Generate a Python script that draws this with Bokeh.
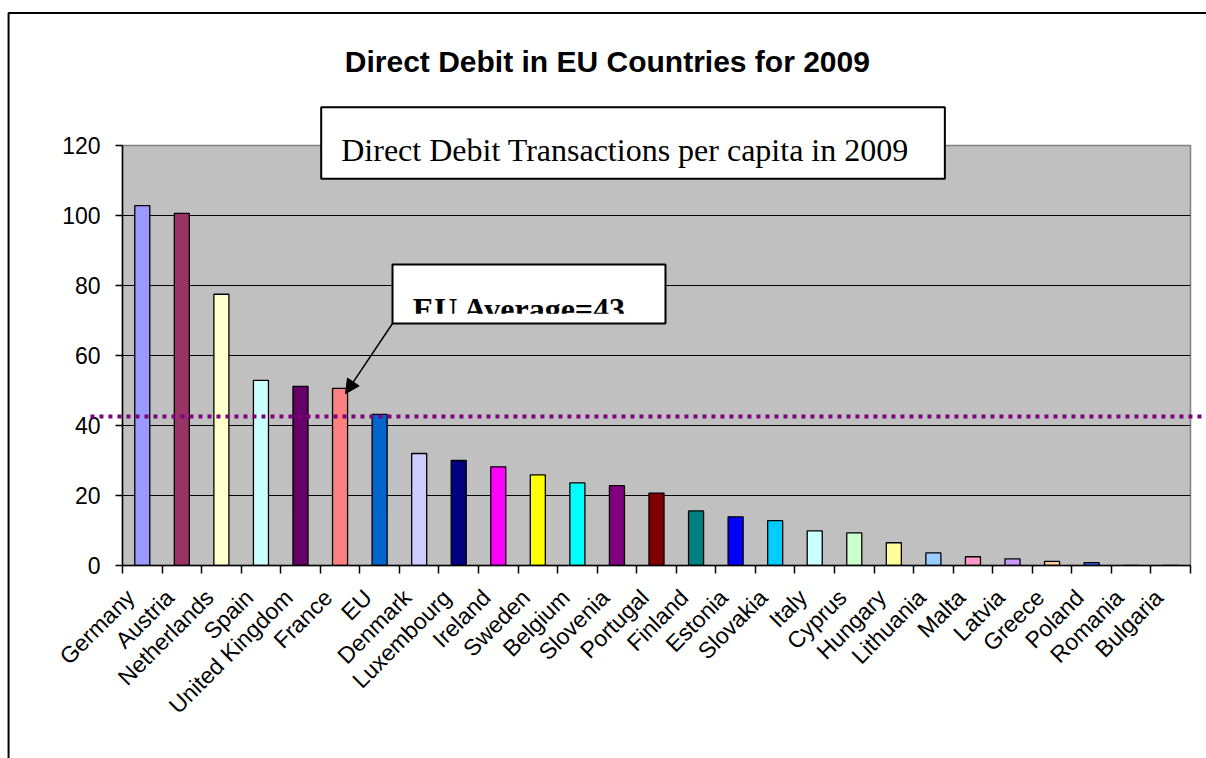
import math
from bokeh.plotting import figure
from bokeh.layouts import column
from bokeh.models import (Range1d, FixedTicker, BoxAnnotation, Label, Arrow, NormalHead,
                          LinearAxis, Grid, ColumnDataSource)
from bokeh.embed import file_html
from bokeh.resources import INLINE

# ---------------- data ----------------
title_text = "Direct Debit in EU Countries for 2009"
callout_text = "Direct Debit Transactions per capita in 2009"
eu_average_label = "EU Average=43"
eu_average_line = 42.6

countries = ["Germany", "Austria", "Netherlands", "Spain", "United Kingdom", "France", "EU",
             "Denmark", "Luxembourg", "Ireland", "Sweden", "Belgium", "Slovenia", "Portugal",
             "Finland", "Estonia", "Slovakia", "Italy", "Cyprus", "Hungary", "Lithuania",
             "Malta", "Latvia", "Greece", "Poland", "Romania", "Bulgaria"]
values = [102.8, 100.6, 77.5, 52.9, 51.2, 50.6, 43.2, 32.0, 30.0, 28.2, 25.9, 23.6, 22.8,
          20.7, 15.6, 13.9, 12.8, 9.9, 9.3, 6.5, 3.6, 2.5, 1.9, 1.2, 0.8, 0.0, 0.0]
colors = ["#9999FF", "#993366", "#FFFFCC", "#CCFFFF", "#660066", "#FF8080", "#0066CC",
          "#CCCCFF", "#000080", "#FF00FF", "#FFFF00", "#00FFFF", "#800080", "#800000",
          "#008080", "#0000FF", "#00CCFF", "#CCFFFF", "#CCFFCC", "#FFFF99", "#99CCFF",
          "#FF99CC", "#CC99FF", "#FFCC99", "#3366FF", "#33CCCC", "#99CC00"]
y_ticks = [0, 20, 40, 60, 80, 100, 120]
y_max = 120

n = len(countries)
x_centers = [i + 0.5 for i in range(n)]
x_bounds = list(range(n + 1))
label_shift = 0.3                           # rotated labels end slightly left of the bar
label_pos = [c - label_shift for c in x_centers]

# ---------------- layout constants ----------------
W, H = 1206, 758
FL, FR, FT, FB = 122, 16, 145, 193          # frame borders (px)
ppx = (W - FL - FR) / n                      # px per category
ppy = (H - FT - FB) / y_max                  # px per unit

src = ColumnDataSource(dict(x=x_centers, top=values, color=colors, country=countries))

p = figure(width=W, height=H, x_range=Range1d(0, n), y_range=Range1d(0, y_max),
           output_backend="svg", toolbar_location=None,
           x_axis_location=None, y_axis_location=None,
           min_border_left=FL, min_border_right=FR, min_border_top=FT, min_border_bottom=FB)
p.frame_align = False
p.center = [r for r in p.center if not isinstance(r, Grid)]
p.background_fill_color = "#C0C0C0"
p.border_fill_color = "white"
p.outline_line_color = "#808080"
p.outline_line_width = 1.5

xaxis = LinearAxis(ticker=FixedTicker(ticks=label_pos, minor_ticks=x_bounds),
                   major_label_overrides={c: name for c, name in zip(label_pos, countries)},
                   major_tick_line_color=None, major_tick_out=0, major_tick_in=0,
                   minor_tick_out=8, minor_tick_in=0, minor_tick_line_color="black",
                   minor_tick_line_width=1.5,
                   axis_line_color="black", axis_line_width=1.5,
                   major_label_orientation=math.pi / 4, major_label_standoff=20,
                   major_label_text_font="Liberation Sans", major_label_text_font_size="23px",
                   major_label_text_color="black")
p.add_layout(xaxis, "below")

yaxis = LinearAxis(ticker=FixedTicker(ticks=y_ticks),
                   major_tick_out=7, major_tick_in=0, major_tick_line_color="black",
                   major_tick_line_width=1.5, minor_tick_line_color=None,
                   axis_line_color="black", axis_line_width=1.5,
                   major_label_standoff=15,
                   major_label_text_font="Liberation Sans", major_label_text_font_size="23px",
                   major_label_text_color="black")
p.add_layout(yaxis, "left")

p.add_layout(Grid(dimension=1, ticker=yaxis.ticker, grid_line_color="black", grid_line_width=1.2))

p.vbar(x="x", top="top", bottom=0, width=0.38, fill_color="color", line_color="black",
       line_width=1.3, source=src)

# ---------------- transparent overlay sharing the same data coordinates ----------------
o = figure(width=W, height=H,
           x_range=Range1d(-FL / ppx, (W - FL) / ppx),
           y_range=Range1d(-FB / ppy, (H - FB) / ppy),
           output_backend="svg", toolbar_location=None,
           x_axis_location=None, y_axis_location=None,
           min_border=0, min_border_left=0, min_border_right=0,
           min_border_top=0, min_border_bottom=0, margin=(-H, 0, 0, 0))
o.frame_align = False
o.center = [r for r in o.center if not isinstance(r, Grid)]
o.border_fill_color = None
o.background_fill_color = None
o.outline_line_color = None

# document frame
o.add_layout(BoxAnnotation(left=-2.88, right=n + 6, top=157.86, bottom=-200,
                           fill_alpha=0, line_color="black", line_alpha=1, line_width=2))

# title
o.add_layout(Label(x=5.62, y=143.9, text=title_text, text_font="Liberation Sans",
                   text_font_style="bold", text_font_size="30px", text_color="black",
                   text_align="left", text_baseline="alphabetic"))

# EU average dotted line
o.add_layout(Arrow(end=None, x_start=-0.81, y_start=eu_average_line,
                   x_end=n + 3, y_end=eu_average_line,
                   line_color="#800080", line_width=4, line_dash="4 5"))

# callout 1
o.add_layout(BoxAnnotation(left=5.023, right=20.79, top=130.94, bottom=110.49,
                           fill_color="white", fill_alpha=1, line_color="black",
                           line_alpha=1, line_width=2))
o.add_layout(Label(x=5.53, y=118.6, text=callout_text, text_font="Liberation Serif",
                   text_font_size="32px", text_color="black", text_align="left",
                   text_baseline="alphabetic"))

# callout 2 (text clipped at the bottom of its box)
o.add_layout(BoxAnnotation(left=6.826, right=13.727, top=86.0, bottom=69.14,
                           fill_color="white", fill_alpha=1, line_alpha=0))
o.add_layout(Label(x=7.34, y=73.29, text=eu_average_label, text_font="Liberation Serif",
                   text_font_style="bold", text_font_size="32px", text_color="black",
                   text_align="left", text_baseline="alphabetic"))
o.add_layout(BoxAnnotation(left=6.88, right=13.67, top=71.91, bottom=69.14,
                           fill_color="white", fill_alpha=1, line_alpha=0))
o.add_layout(BoxAnnotation(left=6.88, right=13.67, top=69.14, bottom=65.4,
                           fill_color="#C0C0C0", fill_alpha=1, line_alpha=0))
o.add_layout(BoxAnnotation(left=6.826, right=13.727, top=86.0, bottom=69.14,
                           fill_alpha=0, line_color="black", line_alpha=1, line_width=2))

# arrow to France
o.add_layout(Arrow(end=NormalHead(size=14, fill_color="black", line_color="black"),
                   x_start=6.826, y_start=69.14, x_end=5.638, y_end=49.1,
                   line_color="black", line_width=1.5))

page = column(p, o, spacing=0)
open("out.html", "w").write(file_html(page, INLINE))
